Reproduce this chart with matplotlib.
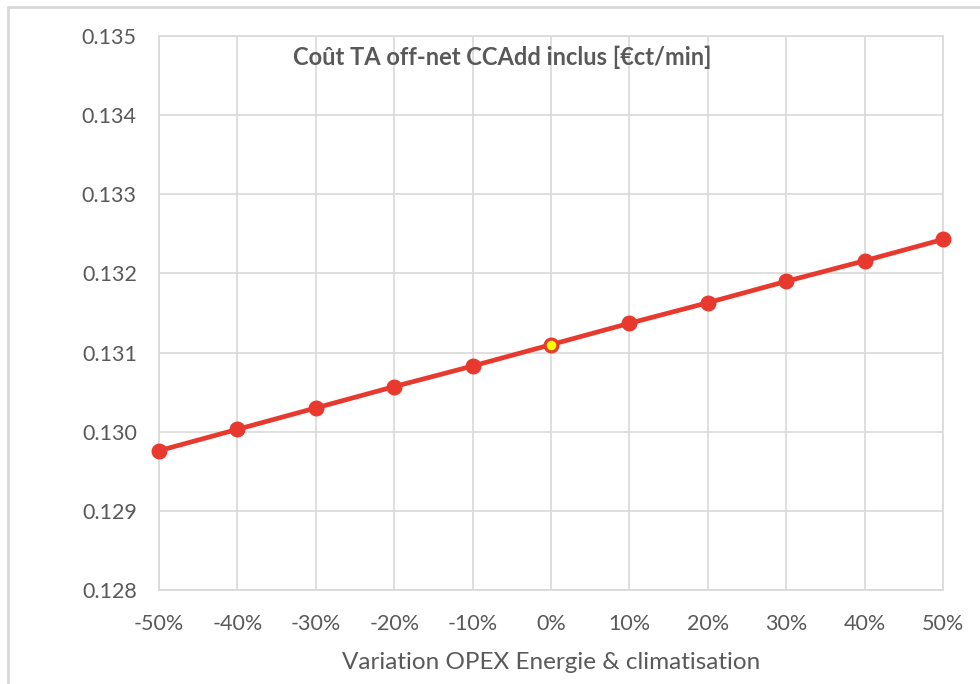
import matplotlib.pyplot as plt
from matplotlib.patches import Rectangle
from matplotlib.ticker import FormatStrFormatter

variation = [-50, -40, -30, -20, -10, 0, 10, 20, 30, 40, 50]
variation_labels = ["-50%", "-40%", "-30%", "-20%", "-10%", "0%",
                    "10%", "20%", "30%", "40%", "50%"]
cout_ta = [0.12976, 0.13003, 0.13030, 0.13057, 0.13083, 0.13110,
           0.13137, 0.13163, 0.13190, 0.13216, 0.13243]
base_idx = variation.index(0)

plt.rcParams["font.family"] = ["Lato", "DejaVu Sans"]
text_col = "#595959"
grid_col = "#d9d9d9"
red = "#e8392e"

fig = plt.figure(figsize=(9.8, 6.84), dpi=100)
# outer chart frame
fig.patches.append(Rectangle((8 / 980, -0.1), 1.2, 1.1 - 7 / 684,
                             transform=fig.transFigure, fill=False,
                             edgecolor="#d9d9d9", linewidth=2))

ax = fig.add_axes([159 / 980, 1 - 590 / 684, 784 / 980, 554 / 684])
ax.plot(variation, cout_ta, color=red, linewidth=3.4, marker="o",
        markersize=10.5, zorder=3, clip_on=False)
ax.plot(variation[base_idx], cout_ta[base_idx], marker="o", markersize=8.5,
        markerfacecolor="#ffff00", markeredgecolor=red, markeredgewidth=1.6,
        zorder=4, linestyle="none")

ax.set_xlim(-50, 50)
ax.set_ylim(0.128, 0.135)
ax.set_xticks(variation)
ax.set_xticklabels(variation_labels)
ax.set_yticks([0.128, 0.129, 0.130, 0.131, 0.132, 0.133, 0.134, 0.135])
ax.yaxis.set_major_formatter(FormatStrFormatter("%.3f"))

ax.grid(True, color=grid_col, linewidth=1.2)
ax.set_axisbelow(True)
for s in ax.spines.values():
    s.set_color(grid_col)
    s.set_linewidth(1.2)
ax.tick_params(length=0, labelsize=15.5, colors=text_col)
ax.tick_params(axis="x", pad=17)
ax.tick_params(axis="y", pad=16)

ax.set_xlabel("Variation OPEX Energie & climatisation", fontsize=17.5,
              color=text_col, labelpad=13)
ax.text(0.4375, 0.962, "Coût TA off-net CCAdd inclus [€ct/min]",
        transform=ax.transAxes, ha="center", va="center", fontsize=17,
        fontweight="bold", color=text_col)

fig.savefig("out.png", dpi=100)
